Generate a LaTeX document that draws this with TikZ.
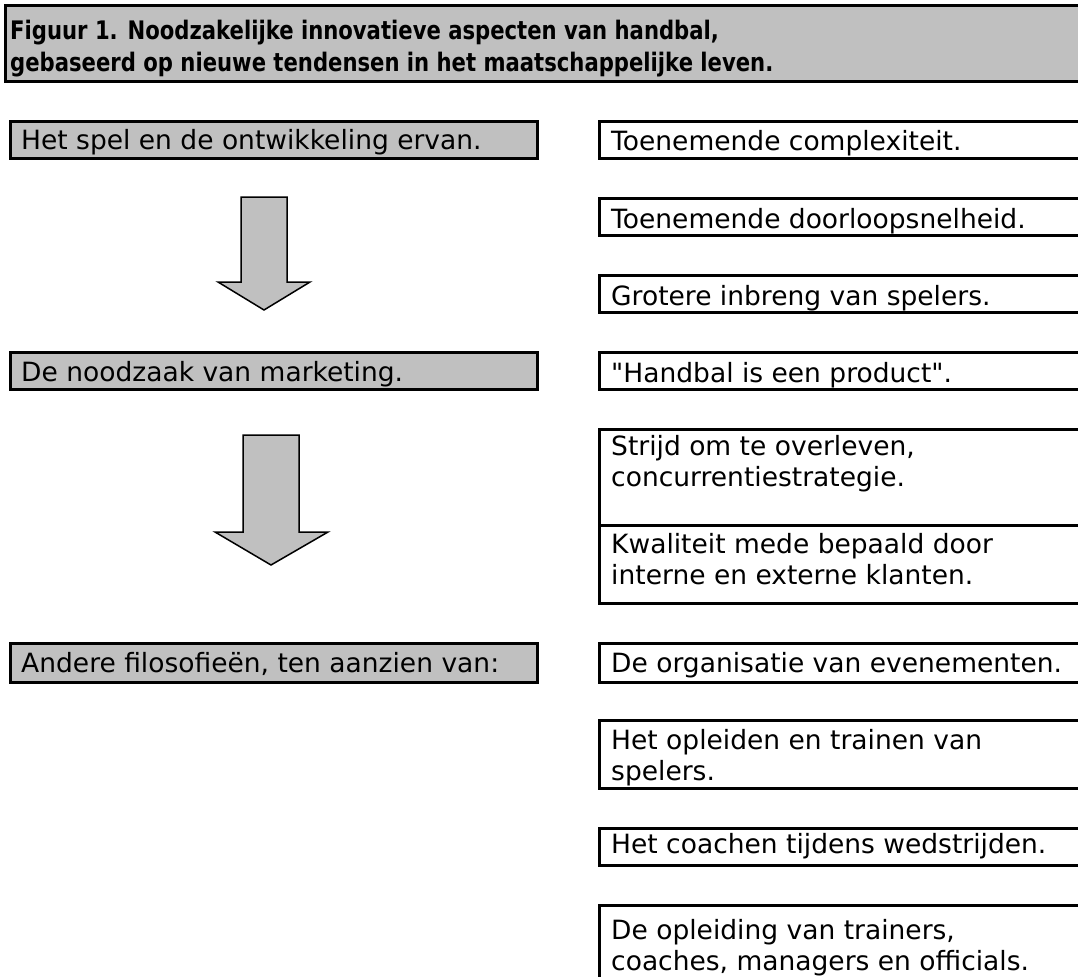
\documentclass[tikz,border=0pt]{standalone}
\usepackage{fontspec}
\setmainfont{DejaVu Sans}[Ligatures=TeXOff]
\newfontfamily\titlefont[FakeStretch=0.83]{DejaVu Sans}
\definecolor{boxgray}{RGB}{192,192,192}
\begin{document}
\begin{tikzpicture}[x=1pt,y=-1pt,
  frame/.style={line width=3pt, line join=miter},
  grayfill/.style={fill=boxgray},
  lbox/.style={fill=boxgray, draw=black, line width=3pt},
  txt/.style={anchor=base west, inner sep=0pt, font=\fontsize{26.5}{31}\selectfont, align=left},
  ttl/.style={anchor=base west, inner sep=0pt, font=\titlefont\bfseries\fontsize{25.5}{32}\selectfont, align=left},
  bigarrow/.style={fill=boxgray, draw=black, line width=1.5pt, line join=miter}]
\useasboundingbox (0,0) rectangle (1078,977);

% title
\path[grayfill] (5,5) rectangle (1078,81);
\draw[frame] (1078,5) -- (5,5) -- (5,81) -- (1078,81);
\node[ttl] (t1) at (10,39) {Figuur 1. Noodzakelijke innovatieve aspecten van handbal,};
\node[ttl] (t2) at (10,71) {gebaseerd op nieuwe tendensen in het maatschappelijke leven.};

% left boxes
\draw[lbox] (10,121) rectangle (537,158);
\node[txt] (l1) at (21,149) {Het spel en de ontwikkeling ervan.};
\draw[lbox] (10,352) rectangle (537,389);
\node[txt] (l2) at (21,381) {De noodzaak van marketing.};
\draw[lbox] (10,643) rectangle (537,682);
\node[txt] (l3) at (21,672) {Andere filosofieën, ten aanzien van:};

% arrows
\draw[bigarrow] (241,197) -- (287,197) -- (287,282) -- (310,282) -- (264,310) -- (218,282) -- (241,282) -- cycle;
\draw[bigarrow] (243,435) -- (299,435) -- (299,532) -- (328,532) -- (271,565) -- (215,532) -- (243,532) -- cycle;

% right boxes
\draw[frame] (1078,121) -- (599,121) -- (599,158) -- (1078,158);
\node[txt] (r1) at (611,150) {Toenemende complexiteit.};
\draw[frame] (1078,198) -- (599,198) -- (599,235) -- (1078,235);
\node[txt] (r2) at (611,228) {Toenemende doorloopsnelheid.};
\draw[frame] (1078,275) -- (599,275) -- (599,312) -- (1078,312);
\node[txt] (r3) at (611,305) {Grotere inbreng van spelers.};
\draw[frame] (1078,352) -- (599,352) -- (599,389) -- (1078,389);
\node[txt] (r4) at (611,382) {"Handbal is een product".};
\draw[frame] (1078,429) -- (599,429) -- (599,525) -- (1078,525);
\node[txt] (r5) at (611,486) {Strijd om te overleven,\\concurrentiestrategie.};
\draw[frame] (599,525) -- (599,603) -- (1078,603);
\node[txt] (r6) at (611,584) {Kwaliteit mede bepaald door\\interne en externe klanten.};
\draw[frame] (1078,643) -- (599,643) -- (599,682) -- (1078,682);
\node[txt] (r7) at (611,672) {De organisatie van evenementen.};
\draw[frame] (1078,720) -- (599,720) -- (599,788) -- (1078,788);
\node[txt] (r8) at (611,780) {Het opleiden en trainen van\\spelers.};
\draw[frame] (1078,828) -- (599,828) -- (599,865) -- (1078,865);
\node[txt] (r9) at (611,853) {Het coachen tijdens wedstrijden.};
\draw[frame] (1078,905) -- (599,905) -- (599,977);
\node[txt] (r10) at (611,970) {De opleiding van trainers,\\coaches, managers en officials.};
\end{tikzpicture}
\end{document}
